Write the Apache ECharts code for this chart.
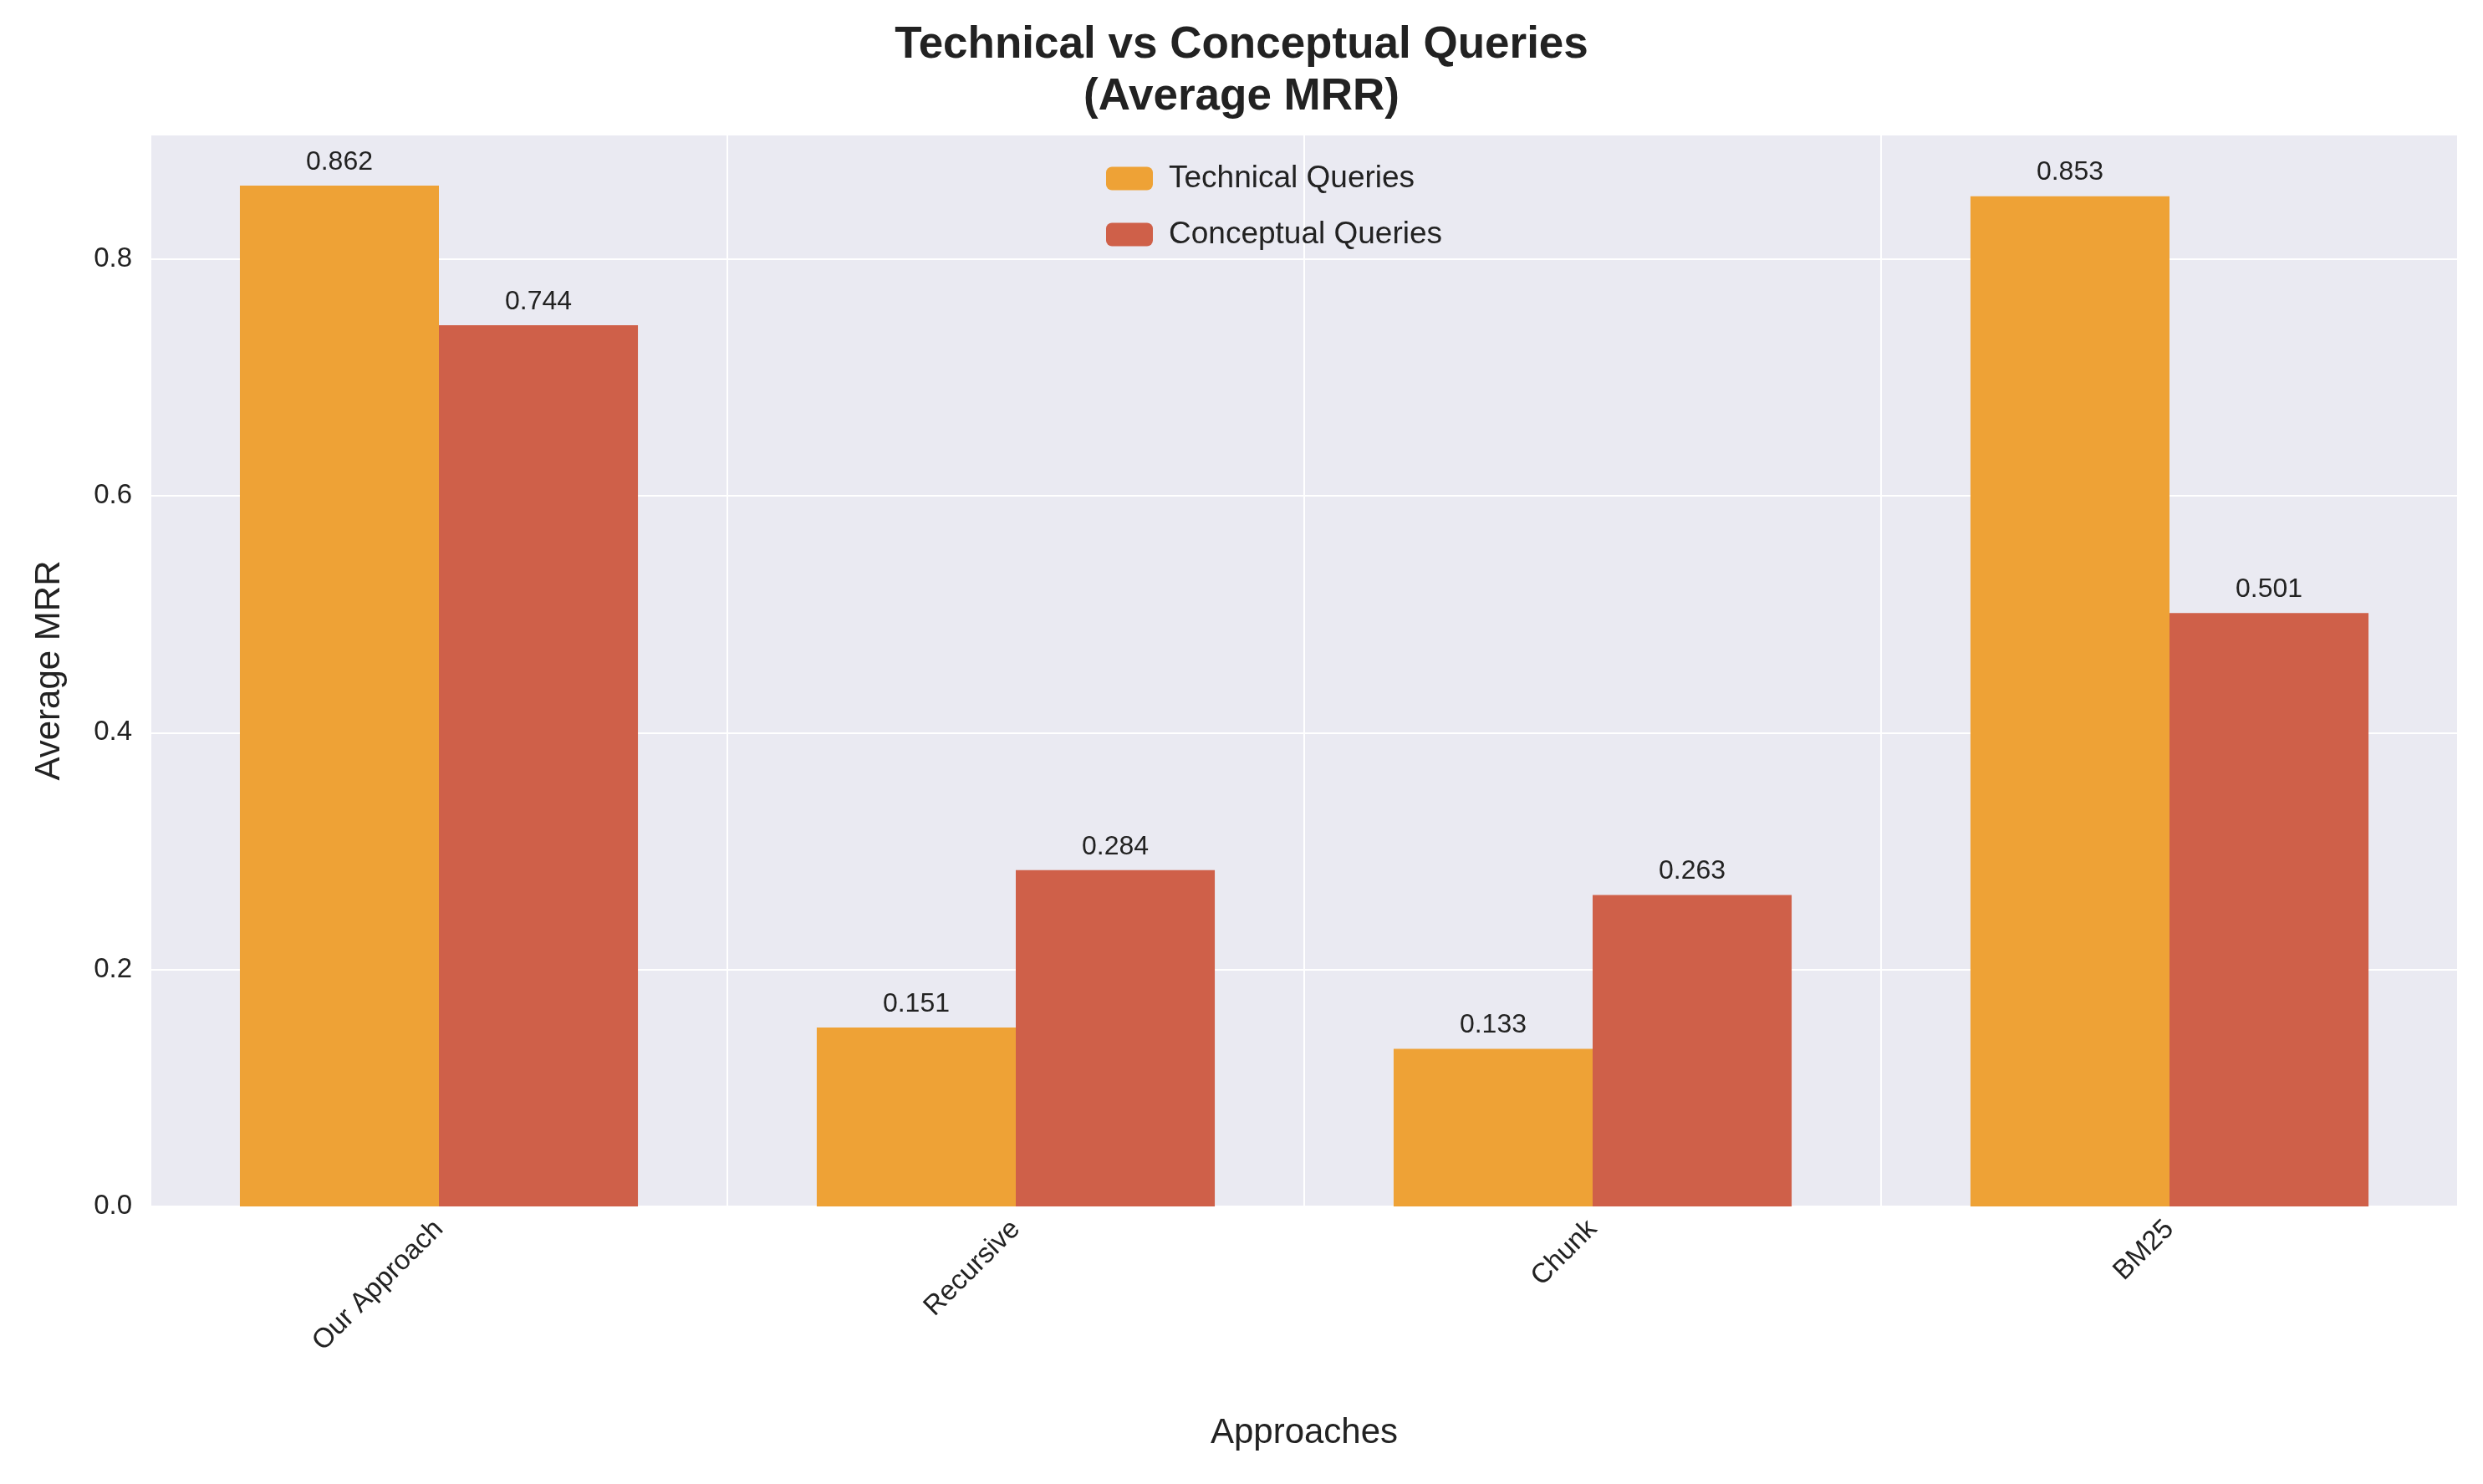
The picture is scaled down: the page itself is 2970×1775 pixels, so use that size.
<!DOCTYPE html>
<html>
<head>
<meta charset="utf-8">
<script src="https://cdn.jsdelivr.net/npm/echarts@6/dist/echarts.min.js"></script>
<style>html,body{margin:0;padding:0;background:#fff}#chart{width:2970px;height:1775px}</style>
</head>
<body>
<div id="chart"></div>
<script>
const approaches = ['Our Approach', 'Recursive', 'Chunk', 'BM25'];
const technical = [0.862, 0.151, 0.133, 0.853];
const conceptual = [0.744, 0.284, 0.263, 0.501];
const yTicks = [0, 0.2, 0.4, 0.6, 0.8];

const font = 'Liberation Sans, Arial, sans-serif';
let chart = echarts.init(document.getElementById('chart'));

let labelStyle = {
  show: true, position: 'top', distance: 12,
  fontFamily: font, fontSize: 32, color: '#222',
  formatter: (p) => p.value.toFixed(3)
};

chart.setOption({
  animation: false,
  title: {
    text: 'Technical vs Conceptual Queries\n(Average MRR)',
    left: 'center', top: 18,
    textStyle: {fontFamily: font, fontSize: 53, fontWeight: 'bold', color: '#222', lineHeight: 62}
  },
  legend: {
    orient: 'vertical', left: 1318, top: 190,
    itemWidth: 56, itemHeight: 28, itemGap: 30,
    textStyle: {fontFamily: font, fontSize: 37, color: '#222', padding: [0, 0, 0, 14]},
    data: ['Technical Queries', 'Conceptual Queries']
  },
  grid: {
    left: 180, right: 30, top: 161, bottom: 332,
    show: true, backgroundColor: '#EAEAF2', borderWidth: 0
  },
  xAxis: {
    type: 'category', data: approaches,
    name: 'Approaches', nameLocation: 'middle', nameGap: 250,
    nameTextStyle: {fontFamily: font, fontSize: 42, color: '#222'},
    axisLine: {show: false}, axisTick: {show: false},
    axisLabel: {rotate: 45, fontFamily: font, fontSize: 33, color: '#222', margin: 22},
    splitLine: {show: true, lineStyle: {color: '#fff', width: 2}}
  },
  yAxis: {
    type: 'value', min: 0, max: 0.905, interval: 0.2,
    name: 'Average MRR', nameLocation: 'middle', nameGap: 100,
    nameTextStyle: {fontFamily: font, fontSize: 42, color: '#222'},
    axisLine: {show: false}, axisTick: {show: false},
    axisLabel: {
      fontFamily: font, fontSize: 33, color: '#222', margin: 22,
      formatter: (v) => yTicks.some(t => Math.abs(t - v) < 1e-9) ? v.toFixed(1) : ''
    },
    splitLine: {lineStyle: {color: '#fff', width: 2}}
  },
  series: [
    {
      name: 'Technical Queries', type: 'bar', data: technical,
      barWidth: '34.5%', barGap: '0%',
      itemStyle: {color: '#EEA236'}, label: labelStyle
    },
    {
      name: 'Conceptual Queries', type: 'bar', data: conceptual,
      barWidth: '34.5%',
      itemStyle: {color: '#CF6049'}, label: labelStyle
    }
  ]
});
</script>
</body>
</html>
